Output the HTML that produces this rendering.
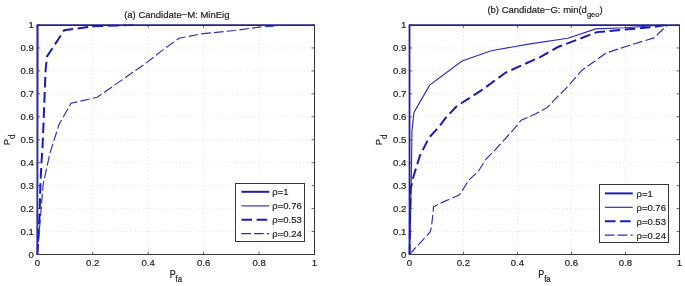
<!DOCTYPE html>
<html><head><meta charset="utf-8"><style>
html,body{margin:0;padding:0;background:#fff;}
body{width:685px;height:286px;overflow:hidden;}
svg{display:block;}
text{font-family:"Liberation Sans",Arial,sans-serif;fill:#1e1e1e;stroke:#1e1e1e;stroke-width:0.2px;}
.tl{font-size:9.6px;}
.lab{font-size:9.3px;}
.sub{font-size:8.2px;}
.sub2{font-size:7.5px;}
.ttl{font-size:9.5px;}
.lg{font-size:9.5px;}
.grid{stroke:#d8d8d8;stroke-width:0.8;stroke-dasharray:1 2.75;fill:none;}
.tick{stroke:#404040;stroke-width:0.8;fill:none;}
.box{stroke:#363636;stroke-width:1;fill:none;}
.leg{stroke:#363636;stroke-width:1;fill:#fff;}
</style></head><body>
<svg width="685" height="286" viewBox="0 0 685 286">
<path class="grid" d="M92.74 254.5V25M148.18 254.5V25M203.62 254.5V25M259.06 254.5V25M37.3 231.55H314.5M37.3 208.6H314.5M37.3 185.65H314.5M37.3 162.7H314.5M37.3 139.75H314.5M37.3 116.8H314.5M37.3 93.85H314.5M37.3 70.9H314.5M37.3 47.95H314.5"/>
<path class="tick" d="M37.3 254.5v-2.8M37.3 25v2.8M92.74 254.5v-2.8M92.74 25v2.8M148.18 254.5v-2.8M148.18 25v2.8M203.62 254.5v-2.8M203.62 25v2.8M259.06 254.5v-2.8M259.06 25v2.8M314.5 254.5v-2.8M314.5 25v2.8M37.3 254.5h2.8M314.5 254.5h-2.8M37.3 231.55h2.8M314.5 231.55h-2.8M37.3 208.6h2.8M314.5 208.6h-2.8M37.3 185.65h2.8M314.5 185.65h-2.8M37.3 162.7h2.8M314.5 162.7h-2.8M37.3 139.75h2.8M314.5 139.75h-2.8M37.3 116.8h2.8M314.5 116.8h-2.8M37.3 93.85h2.8M314.5 93.85h-2.8M37.3 70.9h2.8M314.5 70.9h-2.8M37.3 47.95h2.8M314.5 47.95h-2.8M37.3 25h2.8M314.5 25h-2.8"/>
<rect class="box" x="37.3" y="25" width="277.2" height="229.5"/>
<clipPath id="c37"><rect x="36.4" y="24.4" width="278.6" height="230.6"/></clipPath>
<g clip-path="url(#c37)">
<polyline style="stroke:#1c1cac;stroke-width:2;fill:none" points="37.3,254.5 37.3,25 314.5,25"/>
<polyline style="stroke:#2c2cbc;stroke-width:1.15;fill:none" points="37.3,254.5 37.58,139.75 37.85,27.3 38.41,25"/>
<polyline style="stroke:#1a1ab8;stroke-width:2;fill:none;stroke-dasharray:10.6 4.6" points="37.3,254.5 38.69,231.55 39.79,208.6 40.35,185.65 41.46,162.7 42.57,146.63 45.62,69.75 47,56.44 64.19,30.28 91.91,26.38 134.32,25"/>
<polyline style="stroke:#2c2cbc;stroke-width:1.15;fill:none;stroke-dasharray:9.6 3.2" points="37.3,254.5 39.24,231.55 41.18,208.6 43.12,184.27 50.05,152.83 58.92,124.83 70.98,103.26 97.18,97.29 145.41,63.56 160.65,51.62 178.95,38.31 200.85,33.95 234.39,30.51 257.95,27.3 272.92,26.15 281.24,25"/>
</g>
<text class="tl" x="37.3" y="265.8" text-anchor="middle">0</text>
<text class="tl" x="92.74" y="265.8" text-anchor="middle">0.2</text>
<text class="tl" x="148.18" y="265.8" text-anchor="middle">0.4</text>
<text class="tl" x="203.62" y="265.8" text-anchor="middle">0.6</text>
<text class="tl" x="259.06" y="265.8" text-anchor="middle">0.8</text>
<text class="tl" x="314.5" y="265.8" text-anchor="middle">1</text>
<text class="tl" x="33.9" y="257.7" text-anchor="end">0</text>
<text class="tl" x="33.9" y="234.75" text-anchor="end">0.1</text>
<text class="tl" x="33.9" y="211.8" text-anchor="end">0.2</text>
<text class="tl" x="33.9" y="188.85" text-anchor="end">0.3</text>
<text class="tl" x="33.9" y="165.9" text-anchor="end">0.4</text>
<text class="tl" x="33.9" y="142.95" text-anchor="end">0.5</text>
<text class="tl" x="33.9" y="120" text-anchor="end">0.6</text>
<text class="tl" x="33.9" y="97.05" text-anchor="end">0.7</text>
<text class="tl" x="33.9" y="74.1" text-anchor="end">0.8</text>
<text class="tl" x="33.9" y="51.15" text-anchor="end">0.9</text>
<text class="tl" x="33.9" y="28.2" text-anchor="end">1</text>
<text class="lab" transform="translate(175.9 277.5) scale(0.96 1.1)" text-anchor="middle">P<tspan class="sub" dy="3.8">fa</tspan></text>
<text class="lab" transform="translate(10.3 139.75) rotate(-90)" text-anchor="middle">P<tspan class="sub" dy="5">d</tspan></text>
<text class="ttl" x="176.8" y="18.2" text-anchor="middle">(a) Candidate−M: MinEig</text>
<rect class="leg" x="235.5" y="183.5" width="69" height="58"/>
<path style="stroke:#1c1cac;stroke-width:2;fill:none" d="M241.4 191.8H269.2"/>
<text class="lg" x="272.3" y="195.3">ρ=1</text>
<path style="stroke:#2c2cbc;stroke-width:1.15;fill:none" d="M241.4 205.9H269.2"/>
<text class="lg" x="272.3" y="209.4">ρ=0.76</text>
<path style="stroke:#1a1ab8;stroke-width:2;fill:none;stroke-dasharray:10.6 4.6" d="M241.4 219.8H269.2"/>
<text class="lg" x="272.3" y="223.3">ρ=0.53</text>
<path style="stroke:#2c2cbc;stroke-width:1.15;fill:none;stroke-dasharray:9.6 3.2" d="M241.4 233.6H269.2"/>
<text class="lg" x="272.3" y="237.1">ρ=0.24</text>
<path class="grid" d="M463.42 254.5V25M517.44 254.5V25M571.46 254.5V25M625.48 254.5V25M409.4 231.55H679.5M409.4 208.6H679.5M409.4 185.65H679.5M409.4 162.7H679.5M409.4 139.75H679.5M409.4 116.8H679.5M409.4 93.85H679.5M409.4 70.9H679.5M409.4 47.95H679.5"/>
<path class="tick" d="M409.4 254.5v-2.8M409.4 25v2.8M463.42 254.5v-2.8M463.42 25v2.8M517.44 254.5v-2.8M517.44 25v2.8M571.46 254.5v-2.8M571.46 25v2.8M625.48 254.5v-2.8M625.48 25v2.8M679.5 254.5v-2.8M679.5 25v2.8M409.4 254.5h2.8M679.5 254.5h-2.8M409.4 231.55h2.8M679.5 231.55h-2.8M409.4 208.6h2.8M679.5 208.6h-2.8M409.4 185.65h2.8M679.5 185.65h-2.8M409.4 162.7h2.8M679.5 162.7h-2.8M409.4 139.75h2.8M679.5 139.75h-2.8M409.4 116.8h2.8M679.5 116.8h-2.8M409.4 93.85h2.8M679.5 93.85h-2.8M409.4 70.9h2.8M679.5 70.9h-2.8M409.4 47.95h2.8M679.5 47.95h-2.8M409.4 25h2.8M679.5 25h-2.8"/>
<rect class="box" x="409.4" y="25" width="270.1" height="229.5"/>
<clipPath id="c409"><rect x="408.5" y="24.4" width="271.5" height="230.6"/></clipPath>
<g clip-path="url(#c409)">
<polyline style="stroke:#1c1cac;stroke-width:2;fill:none" points="409.4,254.5 409.4,25 679.5,25"/>
<polyline style="stroke:#2c2cbc;stroke-width:1.15;fill:none" points="409.4,254.5 410.48,220.07 411.29,178.76 411.83,139.75 411.99,130.57 413.99,112.44 429.6,85.13 462.02,61.03 491.19,50.7 530.08,43.82 567.89,38.31 595.71,28.9 625.16,27.75 664.05,25"/>
<polyline style="stroke:#1a1ab8;stroke-width:2;fill:none;stroke-dasharray:10.6 4.6" points="409.4,254.5 409.94,220.07 410.59,189.32 413.4,176.7 419.88,155.81 429.01,137.68 439.33,126.44 445.27,118.41 456.61,106.24 482,89.95 505.77,72.51 524.14,64.24 540.61,56.9 557.9,47.03 597.07,32.11 625.16,29.59 653.52,27.07 666.21,25"/>
<polyline style="stroke:#2c2cbc;stroke-width:1.15;fill:none;stroke-dasharray:9.6 3.2" points="409.4,254.5 430.14,232.01 431.49,226.96 433.65,206.76 439.6,203.55 456.88,195.98 459.58,194.83 468.77,180.14 478.76,170.73 485.78,159.26 494.97,150.08 513.06,130.11 521.17,120.24 535.75,113.82 547.37,107.39 558.44,95.69 564.65,89.95 581.94,70.21 606.25,53 624.89,46.8 654.6,37.62 658.65,33.26 668.1,25"/>
</g>
<text class="tl" x="409.4" y="265.8" text-anchor="middle">0</text>
<text class="tl" x="463.42" y="265.8" text-anchor="middle">0.2</text>
<text class="tl" x="517.44" y="265.8" text-anchor="middle">0.4</text>
<text class="tl" x="571.46" y="265.8" text-anchor="middle">0.6</text>
<text class="tl" x="625.48" y="265.8" text-anchor="middle">0.8</text>
<text class="tl" x="679.5" y="265.8" text-anchor="middle">1</text>
<text class="tl" x="406.4" y="257.7" text-anchor="end">0</text>
<text class="tl" x="406.4" y="234.75" text-anchor="end">0.1</text>
<text class="tl" x="406.4" y="211.8" text-anchor="end">0.2</text>
<text class="tl" x="406.4" y="188.85" text-anchor="end">0.3</text>
<text class="tl" x="406.4" y="165.9" text-anchor="end">0.4</text>
<text class="tl" x="406.4" y="142.95" text-anchor="end">0.5</text>
<text class="tl" x="406.4" y="120" text-anchor="end">0.6</text>
<text class="tl" x="406.4" y="97.05" text-anchor="end">0.7</text>
<text class="tl" x="406.4" y="74.1" text-anchor="end">0.8</text>
<text class="tl" x="406.4" y="51.15" text-anchor="end">0.9</text>
<text class="tl" x="406.4" y="28.2" text-anchor="end">1</text>
<text class="lab" transform="translate(544.45 277.5) scale(0.96 1.1)" text-anchor="middle">P<tspan class="sub" dy="3.8">fa</tspan></text>
<text class="lab" transform="translate(382.4 139.75) rotate(-90)" text-anchor="middle">P<tspan class="sub" dy="5">d</tspan></text>
<text class="ttl" x="545" y="12.9" text-anchor="middle">(b) Candidate−G: min(d<tspan class="sub2" dy="4.2">geo</tspan><tspan dy="-4.2">)</tspan></text>
<rect class="leg" x="599.5" y="184.5" width="69" height="58"/>
<path style="stroke:#1c1cac;stroke-width:2;fill:none" d="M604.9 193.4H632.8"/>
<text class="lg" x="636.5" y="196.9">ρ=1</text>
<path style="stroke:#2c2cbc;stroke-width:1.15;fill:none" d="M604.9 207.3H632.8"/>
<text class="lg" x="636.5" y="210.8">ρ=0.76</text>
<path style="stroke:#1a1ab8;stroke-width:2;fill:none;stroke-dasharray:10.6 4.6" d="M604.9 221.2H632.8"/>
<text class="lg" x="636.5" y="224.7">ρ=0.53</text>
<path style="stroke:#2c2cbc;stroke-width:1.15;fill:none;stroke-dasharray:9.6 3.2" d="M604.9 235.1H632.8"/>
<text class="lg" x="636.5" y="238.6">ρ=0.24</text>
</svg>
</body></html>
